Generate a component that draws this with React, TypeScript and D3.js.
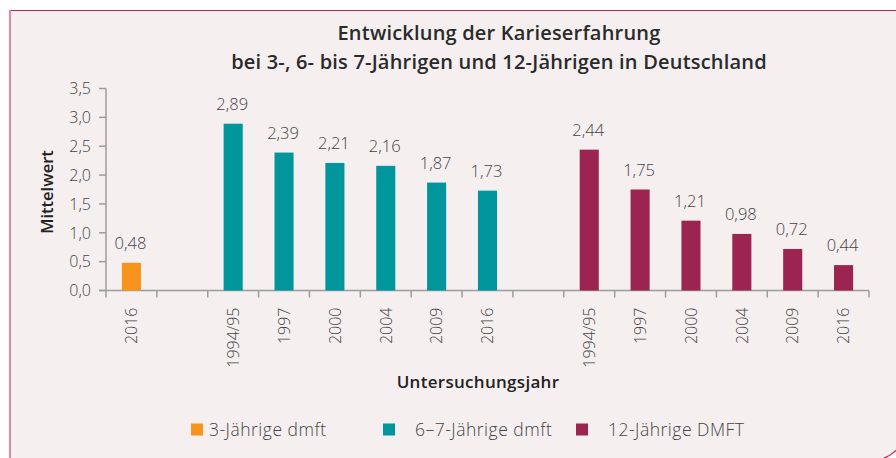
import React from "react";
import * as d3 from "d3";

const groupNames = ["3-Jährige dmft", "6–7-Jährige dmft", "12-Jährige DMFT"];
const groupColors = ["#f7941d", "#00969b", "#9b2550"];
const years3 = ["2016"];
const values3 = [0.48];
const years67 = ["1994/95", "1997", "2000", "2004", "2009", "2016"];
const values67 = [2.89, 2.39, 2.21, 2.16, 1.87, 1.73];
const years12 = ["1994/95", "1997", "2000", "2004", "2009", "2016"];
const values12 = [2.44, 1.75, 1.21, 0.98, 0.72, 0.44];
const yTicks = [0, 0.5, 1, 1.5, 2, 2.5, 3, 3.5];
const titleLines = [
  "Entwicklung der Karieserfahrung",
  "bei 3-, 6- bis 7-Jährigen und 12-Jährigen in Deutschland",
];
const yLabel = "Mittelwert";
const xLabel = "Untersuchungsjahr";

type Slot = { key: string; year?: string; value?: number; group?: number };

const groupsData = [
  { years: years3, values: values3 },
  { years: years67, values: values67 },
  { years: years12, values: values12 },
];

const slots: Slot[] = [];
groupsData.forEach((g, gi) => {
  if (gi > 0) slots.push({ key: "gap" + gi });
  g.years.forEach((yr, i) =>
    slots.push({ key: `g${gi}-${yr}`, year: yr, value: g.values[i], group: gi })
  );
});

const W = 896;
const H = 458;
const plot = { left: 106, right: 869, top: 88.5, bottom: 290.5 };
const FONT = "'Open Sans', Roboto, 'DejaVu Sans', sans-serif";

export default function App() {
  const x = d3
    .scaleBand<string>()
    .domain(slots.map((s) => s.key))
    .range([plot.left, plot.right])
    .paddingInner(0)
    .paddingOuter(0);
  const y = d3.scaleLinear().domain([0, 3.5]).range([plot.bottom, plot.top]);
  const bw = x.bandwidth();
  const barW = bw * 0.375;
  const fmt1 = (v: number) => d3.format(".1f")(v).replace(".", ",");
  const fmt2 = (v: number) => d3.format(".2f")(v).replace(".", ",");
  const axisColor = "#9d9d9d";
  const tickBoundaries = slots.map((s) => x(s.key) as number).concat([plot.right]);

  const legendX = [191, 383, 576];
  const legendTextX = [209, 415, 608];

  const panelPath = "M10,10.5 H909 V421 A40,40 0 0 1 869,461 H10 Z";

  return (
    <svg
      width={W}
      height={H}
      style={{ position: "absolute", left: 0, top: 0 }}
      fontFamily={FONT}
    >
      <rect x={0} y={0} width={W} height={H} fill="#ffffff" />
      <path d={panelPath} fill="#f5eff0" stroke="#c2204f" strokeWidth={1.2} />
      <line x1={10} x2={10} y1={10} y2={H} stroke="#d48fab" strokeWidth={2.2} />

      {titleLines.map((t, i) => (
        <text
          key={i}
          x={499}
          y={40 + i * 29}
          textAnchor="middle"
          fontSize={20}
          fontWeight={600}
          letterSpacing={0.2}
          fill="#2a2a2a"
        >
          {t}
        </text>
      ))}

      {/* y axis */}
      <line x1={plot.left} x2={plot.left} y1={plot.top} y2={plot.bottom} stroke={axisColor} strokeWidth={1.5} />
      {yTicks.map((t) => (
        <g key={t}>
          <line x1={plot.left - 7} x2={plot.left} y1={y(t)} y2={y(t)} stroke={axisColor} strokeWidth={1.5} />
          <text
            x={plot.left - 15}
            y={y(t)}
            dy="0.36em"
            textAnchor="end"
            fontSize={16}
            fontWeight={300}
            fill="#444"
          >
            {fmt1(t)}
          </text>
        </g>
      ))}

      {/* x axis */}
      <line x1={plot.left - 7} x2={plot.right} y1={plot.bottom} y2={plot.bottom} stroke={axisColor} strokeWidth={1.5} />
      {tickBoundaries.map((b, i) => (
        <line key={i} x1={b} x2={b} y1={plot.bottom} y2={plot.bottom + 7} stroke={axisColor} strokeWidth={1.5} />
      ))}

      {/* bars */}
      {slots
        .filter((s) => s.value !== undefined)
        .map((s) => {
          const cx = (x(s.key) as number) + bw / 2;
          const v = s.value as number;
          return (
            <g key={s.key}>
              <rect
                x={cx - barW / 2}
                y={y(v)}
                width={barW}
                height={y(0) - y(v)}
                fill={groupColors[s.group as number]}
              />
              <text
                x={cx - 1}
                y={y(v) - 14}
                textAnchor="middle"
                fontSize={16.5}
                fontWeight={300}
                fill="#444"
              >
                {fmt2(v)}
              </text>
              <text
                transform={`translate(${cx},${plot.bottom + 17}) rotate(-90)`}
                dy="0.36em"
                textAnchor="end"
                fontSize={16}
                fontWeight={300}
                fill="#444"
              >
                {s.year}
              </text>
            </g>
          );
        })}

      <text
        transform={`translate(53,192) rotate(-90)`}
        textAnchor="middle"
        fontSize={16.5}
        fontWeight={600}
        fill="#222"
      >
        {yLabel}
      </text>
      <text x={478} y={388} textAnchor="middle" fontSize={17} fontWeight={600} letterSpacing={0.3} fill="#222">
        {xLabel}
      </text>

      {groupNames.map((g, i) => (
        <g key={g}>
          <rect x={legendX[i]} y={423.5} width={12} height={12} fill={groupColors[i]} />
          <text x={legendTextX[i]} y={436} fontSize={17.5} fontWeight={300} letterSpacing={0.5} fill="#444">
            {g}
          </text>
        </g>
      ))}
    </svg>
  );
}
